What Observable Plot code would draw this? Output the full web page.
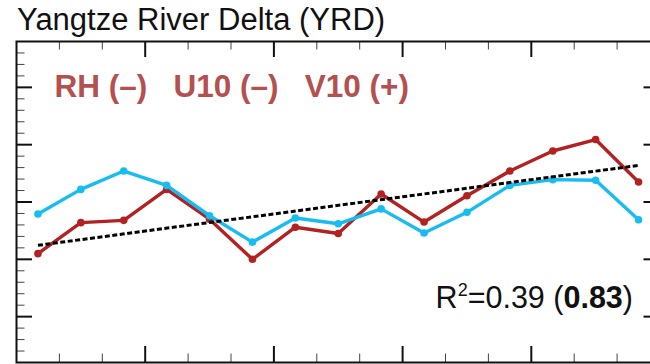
<!DOCTYPE html>
<html><head><meta charset="utf-8">
<script src="https://cdn.jsdelivr.net/npm/d3@7"></script>
<script src="https://cdn.jsdelivr.net/npm/@observablehq/plot@0.6"></script>
<style>
html,body{margin:0;padding:0;overflow:hidden;background:#fff;width:650px;height:364px}
#title{height:30px;box-sizing:border-box;padding:4px 0 0 17px;font:31px/31px "Liberation Sans",Arial,sans-serif;color:#111;white-space:nowrap}
#chart svg{max-width:none;display:block;overflow:hidden}
</style></head><body>
<div id="title">Yangtze River Delta (YRD)</div>
<div id="chart"></div>
<script>
// x positions (one per period)
const periods = [1, 2, 3, 4, 5, 6, 7, 8, 9, 10, 11, 12, 13, 14, 15];
// red series (with linear trend)
const valuesRed = [2.10, 2.64, 2.68, 3.22, 2.70, 2.00, 2.56, 2.45, 3.14, 2.65, 3.11, 3.54, 3.89, 4.09, 3.35];
// cyan series
const valuesBlue = [2.79, 3.22, 3.54, 3.29, 2.76, 2.30, 2.72, 2.62, 2.88, 2.46, 2.82, 3.29, 3.39, 3.38, 2.69];
// annotation texts
const factorLabel = "RH (–)   U10 (–)   V10 (+)";
const r2Value = "0.39";
const r2Bracket = "0.83";

const redColor = "#B22222";
const blueColor = "#17BDF0";
const labelColor = "#B4504F";

const data = periods.map((p, i) => ({period: p, red: valuesRed[i], blue: valuesBlue[i]}));

const xMajor = [3.5, 6.5, 9.5, 12.5];
const xMinor = d3.range(0.5, 15.6, 1).filter(v => !xMajor.includes(v));
const yMajor = [1, 2, 3, 4, 5];
const yMinor = d3.range(2, 29).map(k => k / 5).filter(v => !yMajor.includes(v));

const W = 660, H = 334, mT = 11, mB = 2, mL = 16, mR = 0.5;
const fW = W - mL - mR, fH = H - mT - mB;
const majLen = 16, minLen = 8.5;

const chart = Plot.plot({
  width: W, height: H,
  marginTop: mT, marginBottom: mB, marginLeft: mL, marginRight: mR,
  x: {domain: [0.5, 15.5], axis: null},
  y: {domain: [0.2, 5.8], axis: null},
  marks: [
    // ticks, top
    Plot.ruleX(xMinor, {x: d => d, insetBottom: fH - minLen, stroke: "#444", strokeWidth: 1}),
    Plot.ruleX(xMajor, {x: d => d, insetBottom: fH - majLen, stroke: "#111", strokeWidth: 2}),
    // ticks, bottom
    Plot.ruleX(xMinor, {x: d => d, insetTop: fH - minLen, stroke: "#444", strokeWidth: 1}),
    Plot.ruleX(xMajor, {x: d => d, insetTop: fH - majLen, stroke: "#111", strokeWidth: 2}),
    // ticks, left
    Plot.ruleY(yMinor, {y: d => d, insetRight: fW - minLen, stroke: "#444", strokeWidth: 1}),
    Plot.ruleY(yMajor, {y: d => d, insetRight: fW - majLen, stroke: "#111", strokeWidth: 2}),
    // ticks, right
    Plot.ruleY(yMajor, {y: d => d, insetLeft: fW - majLen, stroke: "#111", strokeWidth: 2}),
    Plot.frame({stroke: "#111", strokeWidth: 2}),
    Plot.line(data, {x: "period", y: "red", stroke: redColor, strokeWidth: 3.4}),
    Plot.dot(data, {x: "period", y: "red", fill: redColor, r: 3.8}),
    Plot.line(data, {x: "period", y: "blue", stroke: blueColor, strokeWidth: 3.4}),
    Plot.dot(data, {x: "period", y: "blue", fill: blueColor, r: 3.8}),
    Plot.linearRegressionY(data, {
      x: "period", y: "red", ci: 0, stroke: "black", strokeWidth: 3,
      strokeDasharray: "5,2.5", strokeLinecap: "butt"
    }),
    Plot.text([factorLabel], {
      text: d => d, frameAnchor: "top-left", textAnchor: "start", lineAnchor: "bottom",
      dx: 38, dy: 55, fill: labelColor, fontSize: 31.5, fontWeight: "bold",
      fontFamily: "Liberation Sans, Arial, sans-serif"
    }),
    Plot.text([r2Value], {
      text: d => `R2=${d} (${r2Bracket})`, frameAnchor: "bottom-right", textAnchor: "end", lineAnchor: "bottom",
      dx: -27, dy: -55, fill: "#111", fontSize: 30.5,
      fontFamily: "Liberation Sans, Arial, sans-serif"
    })
  ]
});

const svg = d3.select(chart);
// make sure the trend line is dashed with square dash ends
svg.selectAll('[stroke="black"]').each(function() {
  const s = d3.select(this);
  s.attr("stroke-dasharray", "5,2.5").attr("stroke-linecap", "butt");
  s.selectAll("path").attr("stroke-dasharray", "5,2.5").attr("stroke-linecap", "butt");
});

// rich formatting of the R² annotation (superscript and bold part)
svg.selectAll("text").filter(function() { return this.textContent.startsWith("R2="); }).each(function() {
  const t = d3.select(this);
  t.text(null);
  t.append("tspan").text("R");
  t.append("tspan").attr("font-size", "18").attr("dy", "-12").text("2");
  t.append("tspan").attr("dy", "12").text(`=${r2Value} (`);
  t.append("tspan").attr("font-weight", "bold").text(r2Bracket);
  t.append("tspan").text(")");
});

document.getElementById("chart").appendChild(chart);
</script>
</body></html>
